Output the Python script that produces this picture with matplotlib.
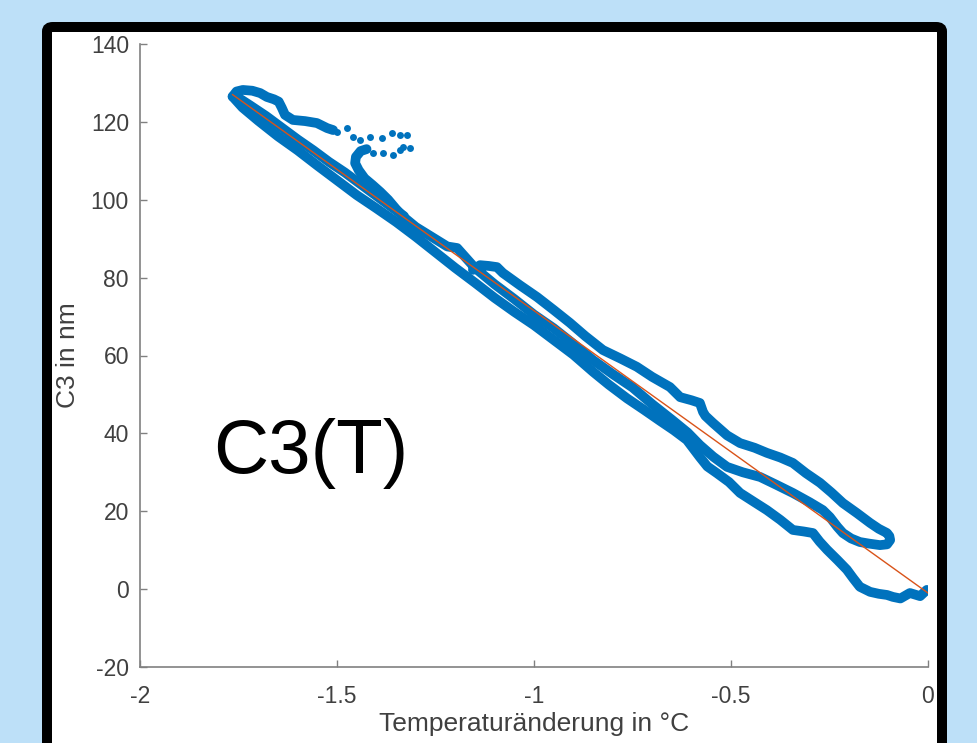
import matplotlib
matplotlib.use("Agg")
import matplotlib.pyplot as plt
from matplotlib.patches import FancyBboxPatch

plt.rcParams['font.family'] = ['Liberation Sans', 'DejaVu Sans']
plt.rcParams['axes.unicode_minus'] = False

# lower branch, from the right end (T=0) up to the top-left corner
T_low = [-0.003, -0.02, -0.046, -0.07, -0.089, -0.104, -0.125, -0.147, -0.173, -0.19,
         -0.206, -0.23, -0.256, -0.275, -0.292, -0.315, -0.343, -0.375, -0.409, -0.44,
         -0.477, -0.505, -0.536, -0.56, -0.579, -0.612, -0.645, -0.680, -0.72, -0.764,
         -0.81, -0.85, -0.90, -0.95, -1.00, -1.05, -1.10, -1.15, -1.20, -1.25,
         -1.30, -1.35, -1.40, -1.45, -1.50, -1.55, -1.60, -1.65, -1.70, -1.74, -1.765]
C_low = [-0.2, -1.8, -1.0, -2.4, -2.0, -1.5, -1.2, -0.7, 0.6, 2.8,
         5.0, 7.5, 10.1, 12.2, 14.4, 14.8, 15.2, 17.8, 20.3, 22.3,
         24.7, 27.5, 29.8, 31.5, 33.9, 38.3, 40.8, 43.2, 46.0, 49.0,
         52.5, 55.8, 60.2, 64.0, 67.8, 71.2, 74.8, 78.7, 82.5, 86.5,
         90.5, 94.3, 97.8, 101.2, 105.0, 108.8, 112.7, 116.3, 120.3, 123.7, 126.5]

# second pass through the upper-left part of the band
T_band = [-1.755, -1.72, -1.68, -1.64, -1.60, -1.56, -1.52, -1.48, -1.44, -1.40, -1.36, -1.33]
C_band = [126.5, 124.2, 121.5, 118.5, 115.5, 112.7, 109.7, 107.0, 104.0, 101.0, 98.0, 95.8]

# top edge of the small loop at the top left
T_top = [-1.765, -1.755, -1.739, -1.715, -1.695, -1.678, -1.660, -1.648, -1.640, -1.632,
         -1.612, -1.581, -1.551, -1.525, -1.510]
C_top = [126.5, 127.8, 128.2, 128.0, 127.4, 126.4, 125.8, 125.2, 123.6, 121.8,
         120.5, 120.2, 119.7, 118.4, 117.9]

# sparse points (fast jump)
T_dot = [-1.500, -1.475, -1.459, -1.442, -1.416, -1.386, -1.360, -1.340, -1.322,
         -1.315, -1.332, -1.340, -1.358, -1.383, -1.409]
C_dot = [117.4, 118.4, 116.1, 115.3, 116.1, 115.9, 117.1, 116.6, 116.6,
         113.3, 113.5, 112.8, 111.5, 112.0, 112.0]

# hook, back down the band, right loop and upper branch
T_ret = [-1.425, -1.440, -1.452, -1.454, -1.445, -1.430, -1.410, -1.390, -1.370, -1.350,
         -1.330, -1.300, -1.260, -1.220, -1.195, -1.15, -1.10, -1.05, -1.00, -0.95,
         -0.90, -0.85, -0.80, -0.75, -0.70, -0.65, -0.61, -0.579, -0.545, -0.510,
         -0.470, -0.426, -0.385, -0.343, -0.300, -0.267, -0.249, -0.230, -0.216, -0.195,
         -0.173, -0.150, -0.122, -0.104, -0.096, -0.098, -0.104, -0.125, -0.147, -0.180,
         -0.216, -0.245, -0.274, -0.310, -0.343, -0.375, -0.409, -0.440, -0.477, -0.510,
         -0.546, -0.565, -0.571, -0.579, -0.600, -0.629, -0.655, -0.700, -0.739, -0.780,
         -0.825, -0.870, -0.909, -0.950, -0.992, -1.035, -1.079, -1.094, -1.115, -1.137, -1.155]
C_ret = [113.0, 112.5, 111.0, 109.4, 107.6, 105.5, 103.8, 102.0, 100.0, 97.6,
         95.5, 93.0, 90.5, 88.0, 87.6, 82.5, 78.3, 74.5, 70.5, 67.0,
         63.0, 58.8, 55.2, 51.8, 47.5, 43.5, 40.2, 37.0, 34.0, 31.4,
         30.0, 28.8, 26.8, 24.7, 22.3, 20.3, 18.5, 16.0, 14.4, 13.0,
         12.1, 11.7, 11.3, 11.5, 12.6, 13.6, 14.4, 15.5, 17.0, 19.5,
         22.1, 24.8, 27.3, 29.8, 32.4, 33.8, 35.0, 36.3, 37.5, 39.5,
         42.7, 44.5, 45.5, 47.8, 48.5, 49.3, 51.9, 54.5, 57.1, 59.2,
         61.4, 65.0, 68.4, 71.7, 75.0, 78.0, 81.2, 82.7, 83.0, 83.2, 82.0]

# linear fit
T_fit = [-1.765, 0.0]
C_fit = [127.0, -1.0]

xticks = [-2, -1.5, -1, -0.5, 0]
xticklabels = ['-2', '-1.5', '-1', '-0.5', '0']
yticks = [-20, 0, 20, 40, 60, 80, 100, 120, 140]

W, H = 977, 743
blue = '#0072BD'
fig = plt.figure(figsize=(W / 100, H / 100), dpi=100)
fig.patch.set_facecolor('#bde0f8')

# black slide frame
frame = FancyBboxPatch((47 / W, -30 / H), 895 / W, (H - 27 + 30) / H,
                       boxstyle='round,pad=0,rounding_size=0.006',
                       transform=fig.transFigure, facecolor='white',
                       edgecolor='black', linewidth=7.2, zorder=0)
fig.add_artist(frame)

ax = fig.add_axes([140 / W, 1 - 667 / H, 788 / W, 623 / H])
ax.set_facecolor('white')

line_kw = dict(color=blue, lw=7, solid_capstyle='round', solid_joinstyle='round', zorder=2)
ax.plot(T_low, C_low, **line_kw)
ax.plot(T_band, C_band, **line_kw)
ax.plot(T_top, C_top, **line_kw)
ax.plot(T_ret, C_ret, **line_kw)
ax.plot(T_dot, C_dot, 'o', color=blue, ms=5, mew=0, zorder=2)
ax.plot(T_fit, C_fit, color='#D95319', lw=1, zorder=3)

ax.set_xlim(-2, 0)
ax.set_ylim(-20, 140)
ax.set_xticks(xticks)
ax.set_xticklabels(xticklabels)
ax.set_yticks(yticks)

for s in ['top', 'right']:
    ax.spines[s].set_visible(False)
for s in ['left', 'bottom']:
    ax.spines[s].set_color('#808080')
    ax.spines[s].set_linewidth(1.2)
ax.tick_params(direction='in', length=5, width=1, color='#808080',
               labelcolor='#404040', labelsize=16.5)
ax.tick_params(axis='x', pad=13)
ax.tick_params(axis='y', pad=8)

ax.set_xlabel('Temperaturänderung in °C', fontsize=19, color='#404040', labelpad=3)
ax.set_ylabel('C3 in nm', fontsize=19, color='#404040', labelpad=8)

ax.text(-1.815, 29.8, 'C3(T)', fontsize=55, va='baseline', ha='left', color='black')

fig.savefig('out.png', dpi=100, facecolor=fig.get_facecolor())
